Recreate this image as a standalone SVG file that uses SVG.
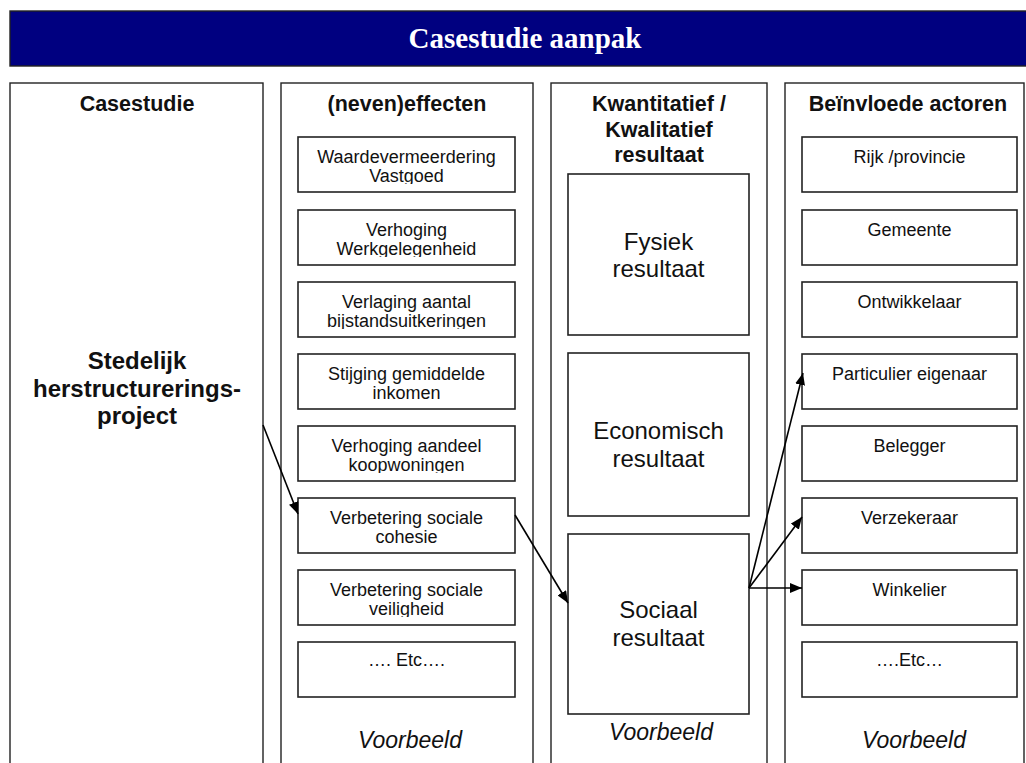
<svg xmlns="http://www.w3.org/2000/svg" width="1026" height="763" viewBox="0 0 1026 763">
<style>
.col{fill:#fff;stroke:#222;stroke-width:1.4}
.box{fill:#fff;stroke:#222;stroke-width:1.6}
.t{font-family:"Liberation Sans",Arial,sans-serif;font-size:18px;fill:#111;text-anchor:middle}
.h{font-family:"Liberation Sans",Arial,sans-serif;font-size:21.5px;font-weight:bold;fill:#111;text-anchor:middle}
.big{font-family:"Liberation Sans",Arial,sans-serif;font-size:24px;fill:#111;text-anchor:middle}
.bold24{font-family:"Liberation Sans",Arial,sans-serif;font-size:24px;font-weight:bold;fill:#111;text-anchor:middle}
.vb{font-family:"Liberation Sans",Arial,sans-serif;font-size:23px;font-style:italic;fill:#111;text-anchor:middle}
.title{font-family:"Liberation Serif","Times New Roman",serif;font-size:29px;font-weight:bold;fill:#fff;text-anchor:middle}
.conn{stroke:#000;stroke-width:1.6;fill:none;marker-end:url(#ah)}
</style>
<defs>
<marker id="ah" markerUnits="userSpaceOnUse" markerWidth="12" markerHeight="10" refX="12" refY="5" orient="auto">
<path d="M0,0 L12,5 L0,10 z" fill="#000"/>
</marker>
<clipPath id="cb"><rect x="0" y="0" width="217" height="47"/></clipPath>
</defs>
<rect width="1026" height="763" fill="#fff"/>
<g id="banner">
<rect x="10" y="11" width="1020" height="55" fill="#000080" stroke="#222" stroke-width="1.4"/>
<text class="title" x="525" y="48">Casestudie aanpak</text>
</g>
<g id="col-casestudie">
<rect class="col" x="10" y="83" width="253" height="700"/>
<text class="h" x="137" y="111">Casestudie</text>
<text class="bold24" x="137" y="369">Stedelijk</text>
<text class="bold24" x="137" y="397">herstructurerings-</text>
<text class="bold24" x="137" y="424">project</text>
</g>
<g id="col-effecten">
<rect class="col" x="281" y="83" width="252" height="700"/>
<text class="h" x="407" y="111">(neven)effecten</text>
<text class="vb" x="410" y="748">Voorbeeld</text>
</g>
<g id="col-resultaat">
<rect class="col" x="551" y="83" width="216" height="700"/>
<text class="h" x="659" y="111">Kwantitatief /</text>
<text class="h" x="659" y="137">Kwalitatief</text>
<text class="h" x="659" y="162">resultaat</text>
<text class="vb" x="661" y="740">Voorbeeld</text>
</g>
<g id="col-actoren">
<rect class="col" x="785" y="83" width="239" height="700"/>
<text class="h" x="908" y="111">Beïnvloede actoren</text>
<text class="vb" x="914" y="748">Voorbeeld</text>
</g>

<g id="e1" transform="translate(298,137)"><rect class="box" width="217" height="55"/><g clip-path="url(#cb)"><text class="t" x="108.5" y="26">Waardevermeerdering</text><text class="t" x="108.5" y="45">Vastgoed</text></g></g>
<g id="e2" transform="translate(298,210)"><rect class="box" width="217" height="55"/><g clip-path="url(#cb)"><text class="t" x="108.5" y="26">Verhoging</text><text class="t" x="108.5" y="45">Werkgelegenheid</text></g></g>
<g id="e3" transform="translate(298,282)"><rect class="box" width="217" height="55"/><g clip-path="url(#cb)"><text class="t" x="108.5" y="26">Verlaging aantal</text><text class="t" x="108.5" y="45">bijstandsuitkeringen</text></g></g>
<g id="e4" transform="translate(298,354)"><rect class="box" width="217" height="55"/><g clip-path="url(#cb)"><text class="t" x="108.5" y="26">Stijging gemiddelde</text><text class="t" x="108.5" y="45">inkomen</text></g></g>
<g id="e5" transform="translate(298,426)"><rect class="box" width="217" height="55"/><g clip-path="url(#cb)"><text class="t" x="108.5" y="26">Verhoging aandeel</text><text class="t" x="108.5" y="45">koopwoningen</text></g></g>
<g id="e6" transform="translate(298,498)"><rect class="box" width="217" height="55"/><g clip-path="url(#cb)"><text class="t" x="108.5" y="26">Verbetering sociale</text><text class="t" x="108.5" y="45">cohesie</text></g></g>
<g id="e7" transform="translate(298,570)"><rect class="box" width="217" height="55"/><g clip-path="url(#cb)"><text class="t" x="108.5" y="26">Verbetering sociale</text><text class="t" x="108.5" y="45">veiligheid</text></g></g>
<g id="e8" transform="translate(298,642)"><rect class="box" width="217" height="55"/><text class="t" x="108.5" y="24">…. Etc….</text></g>

<g id="r1"><rect class="box" x="568" y="174" width="181" height="161"/><text class="big" x="658.5" y="250">Fysiek</text><text class="big" x="658.5" y="277">resultaat</text></g>
<g id="r2"><rect class="box" x="568" y="353" width="181" height="163"/><text class="big" x="658.5" y="439">Economisch</text><text class="big" x="658.5" y="467">resultaat</text></g>
<g id="r3"><rect class="box" x="568" y="534" width="181" height="180"/><text class="big" x="658.5" y="618">Sociaal</text><text class="big" x="658.5" y="646">resultaat</text></g>

<g id="a1" transform="translate(802,137)"><rect class="box" width="215" height="55"/><text class="t" x="107.5" y="26">Rijk /provincie</text></g>
<g id="a2" transform="translate(802,210)"><rect class="box" width="215" height="55"/><text class="t" x="107.5" y="26">Gemeente</text></g>
<g id="a3" transform="translate(802,282)"><rect class="box" width="215" height="55"/><text class="t" x="107.5" y="26">Ontwikkelaar</text></g>
<g id="a4" transform="translate(802,354)"><rect class="box" width="215" height="55"/><text class="t" x="107.5" y="26">Particulier eigenaar</text></g>
<g id="a5" transform="translate(802,426)"><rect class="box" width="215" height="55"/><text class="t" x="107.5" y="26">Belegger</text></g>
<g id="a6" transform="translate(802,498)"><rect class="box" width="215" height="55"/><text class="t" x="107.5" y="26">Verzekeraar</text></g>
<g id="a7" transform="translate(802,570)"><rect class="box" width="215" height="55"/><text class="t" x="107.5" y="26">Winkelier</text></g>
<g id="a8" transform="translate(802,642)"><rect class="box" width="215" height="55"/><text class="t" x="107.5" y="24">….Etc…</text></g>

<g id="connectors">
<line class="conn" x1="263" y1="425" x2="298" y2="514"/>
<line class="conn" x1="515" y1="515" x2="568" y2="603"/>
<line class="conn" x1="749" y1="588" x2="803" y2="373"/>
<line class="conn" x1="749" y1="588" x2="802" y2="517"/>
<line class="conn" x1="749" y1="588" x2="802" y2="588"/>
</g>
</svg>
